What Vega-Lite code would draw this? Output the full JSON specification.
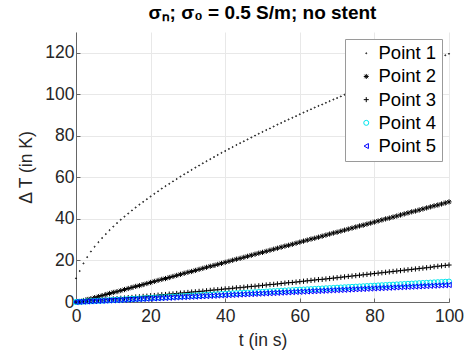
{
"$schema":"https://vega.github.io/schema/vega-lite/v6.json",
"width":373,"height":270,
"autosize":{"type":"none"},
"padding":{"left":76,"top":32,"right":24,"bottom":61},
"background":"white",
"config":{"view":{"stroke":null},"font":"Liberation Sans"},
"title":{"text":"σₙ; σ₀ = 0.5 S/m; no stent","fontSize":19,"fontWeight":"bold","font":"Liberation Sans","color":"#000","anchor":"middle","offset":9},
"data":{"values":[
{"t":0,"p1":11.4,"p2":0,"p3":0,"p4":0,"p5":0},
{"t":1,"p1":14.9,"p2":0.2,"p3":0.1,"p4":0.1,"p5":0.08},
{"t":2,"p1":18.6,"p2":0.7,"p3":0.3,"p4":0.2,"p5":0.16},
{"t":3,"p1":21.6,"p2":1.2,"p3":0.4,"p4":0.29,"p5":0.25},
{"t":4,"p1":24.3,"p2":1.6,"p3":0.6,"p4":0.39,"p5":0.33},
{"t":5,"p1":26.6,"p2":2.1,"p3":0.7,"p4":0.49,"p5":0.41},
{"t":6,"p1":28.8,"p2":2.6,"p3":0.9,"p4":0.59,"p5":0.49},
{"t":7,"p1":30.8,"p2":3.1,"p3":1.0,"p4":0.69,"p5":0.57},
{"t":8,"p1":32.7,"p2":3.6,"p3":1.2,"p4":0.78,"p5":0.66},
{"t":9,"p1":34.6,"p2":4.1,"p3":1.3,"p4":0.88,"p5":0.74},
{"t":10,"p1":36.3,"p2":4.6,"p3":1.5,"p4":0.98,"p5":0.82},
{"t":11,"p1":38.0,"p2":5.0,"p3":1.6,"p4":1.08,"p5":0.9},
{"t":12,"p1":39.6,"p2":5.5,"p3":1.8,"p4":1.18,"p5":0.98},
{"t":13,"p1":41.1,"p2":6.0,"p3":1.9,"p4":1.27,"p5":1.07},
{"t":14,"p1":42.6,"p2":6.5,"p3":2.1,"p4":1.37,"p5":1.15},
{"t":15,"p1":44.1,"p2":7.0,"p3":2.2,"p4":1.47,"p5":1.23},
{"t":16,"p1":45.5,"p2":7.5,"p3":2.4,"p4":1.57,"p5":1.31},
{"t":17,"p1":46.9,"p2":7.9,"p3":2.5,"p4":1.67,"p5":1.39},
{"t":18,"p1":48.2,"p2":8.4,"p3":2.7,"p4":1.76,"p5":1.48},
{"t":19,"p1":49.5,"p2":8.9,"p3":2.8,"p4":1.86,"p5":1.56},
{"t":20,"p1":50.8,"p2":9.4,"p3":3.0,"p4":1.96,"p5":1.64},
{"t":21,"p1":52.1,"p2":9.9,"p3":3.1,"p4":2.06,"p5":1.72},
{"t":22,"p1":53.3,"p2":10.4,"p3":3.3,"p4":2.16,"p5":1.8},
{"t":23,"p1":54.6,"p2":10.9,"p3":3.5,"p4":2.25,"p5":1.89},
{"t":24,"p1":55.8,"p2":11.3,"p3":3.6,"p4":2.35,"p5":1.97},
{"t":25,"p1":56.9,"p2":11.8,"p3":3.8,"p4":2.45,"p5":2.05},
{"t":26,"p1":58.1,"p2":12.3,"p3":3.9,"p4":2.55,"p5":2.13},
{"t":27,"p1":59.2,"p2":12.8,"p3":4.1,"p4":2.65,"p5":2.21},
{"t":28,"p1":60.4,"p2":13.3,"p3":4.3,"p4":2.74,"p5":2.3},
{"t":29,"p1":61.5,"p2":13.8,"p3":4.4,"p4":2.84,"p5":2.38},
{"t":30,"p1":62.5,"p2":14.3,"p3":4.6,"p4":2.94,"p5":2.46},
{"t":31,"p1":63.6,"p2":14.7,"p3":4.8,"p4":3.04,"p5":2.54},
{"t":32,"p1":64.7,"p2":15.2,"p3":4.9,"p4":3.14,"p5":2.62},
{"t":33,"p1":65.7,"p2":15.7,"p3":5.1,"p4":3.23,"p5":2.71},
{"t":34,"p1":66.8,"p2":16.2,"p3":5.2,"p4":3.33,"p5":2.79},
{"t":35,"p1":67.8,"p2":16.7,"p3":5.4,"p4":3.43,"p5":2.87},
{"t":36,"p1":68.8,"p2":17.2,"p3":5.6,"p4":3.53,"p5":2.95},
{"t":37,"p1":69.8,"p2":17.6,"p3":5.8,"p4":3.63,"p5":3.03},
{"t":38,"p1":70.8,"p2":18.1,"p3":5.9,"p4":3.72,"p5":3.12},
{"t":39,"p1":71.8,"p2":18.6,"p3":6.1,"p4":3.82,"p5":3.2},
{"t":40,"p1":72.7,"p2":19.1,"p3":6.3,"p4":3.92,"p5":3.28},
{"t":41,"p1":73.7,"p2":19.6,"p3":6.4,"p4":4.02,"p5":3.36},
{"t":42,"p1":74.6,"p2":20.1,"p3":6.6,"p4":4.12,"p5":3.44},
{"t":43,"p1":75.6,"p2":20.6,"p3":6.8,"p4":4.21,"p5":3.53},
{"t":44,"p1":76.5,"p2":21.0,"p3":6.9,"p4":4.31,"p5":3.61},
{"t":45,"p1":77.4,"p2":21.5,"p3":7.1,"p4":4.41,"p5":3.69},
{"t":46,"p1":78.3,"p2":22.0,"p3":7.3,"p4":4.51,"p5":3.77},
{"t":47,"p1":79.2,"p2":22.5,"p3":7.5,"p4":4.61,"p5":3.85},
{"t":48,"p1":80.1,"p2":23.0,"p3":7.6,"p4":4.7,"p5":3.94},
{"t":49,"p1":81.0,"p2":23.5,"p3":7.8,"p4":4.8,"p5":4.02},
{"t":50,"p1":81.9,"p2":23.9,"p3":8.0,"p4":4.9,"p5":4.1},
{"t":51,"p1":82.8,"p2":24.4,"p3":8.2,"p4":5.0,"p5":4.18},
{"t":52,"p1":83.6,"p2":24.9,"p3":8.4,"p4":5.1,"p5":4.26},
{"t":53,"p1":84.5,"p2":25.4,"p3":8.5,"p4":5.19,"p5":4.35},
{"t":54,"p1":85.4,"p2":25.9,"p3":8.7,"p4":5.29,"p5":4.43},
{"t":55,"p1":86.2,"p2":26.4,"p3":8.9,"p4":5.39,"p5":4.51},
{"t":56,"p1":87.1,"p2":26.9,"p3":9.1,"p4":5.49,"p5":4.59},
{"t":57,"p1":87.9,"p2":27.3,"p3":9.3,"p4":5.59,"p5":4.67},
{"t":58,"p1":88.7,"p2":27.8,"p3":9.4,"p4":5.68,"p5":4.76},
{"t":59,"p1":89.5,"p2":28.3,"p3":9.6,"p4":5.78,"p5":4.84},
{"t":60,"p1":90.4,"p2":28.8,"p3":9.8,"p4":5.88,"p5":4.92},
{"t":61,"p1":91.2,"p2":29.3,"p3":10.0,"p4":5.98,"p5":5.0},
{"t":62,"p1":92.0,"p2":29.8,"p3":10.2,"p4":6.08,"p5":5.08},
{"t":63,"p1":92.8,"p2":30.3,"p3":10.4,"p4":6.17,"p5":5.17},
{"t":64,"p1":93.6,"p2":30.7,"p3":10.6,"p4":6.27,"p5":5.25},
{"t":65,"p1":94.4,"p2":31.2,"p3":10.8,"p4":6.37,"p5":5.33},
{"t":66,"p1":95.1,"p2":31.7,"p3":10.9,"p4":6.47,"p5":5.41},
{"t":67,"p1":95.9,"p2":32.2,"p3":11.1,"p4":6.57,"p5":5.49},
{"t":68,"p1":96.7,"p2":32.7,"p3":11.3,"p4":6.66,"p5":5.58},
{"t":69,"p1":97.5,"p2":33.2,"p3":11.5,"p4":6.76,"p5":5.66},
{"t":70,"p1":98.2,"p2":33.6,"p3":11.7,"p4":6.86,"p5":5.74},
{"t":71,"p1":99.0,"p2":34.1,"p3":11.9,"p4":6.96,"p5":5.82},
{"t":72,"p1":99.8,"p2":34.6,"p3":12.1,"p4":7.06,"p5":5.9},
{"t":73,"p1":100.5,"p2":35.1,"p3":12.3,"p4":7.15,"p5":5.99},
{"t":74,"p1":101.3,"p2":35.6,"p3":12.5,"p4":7.25,"p5":6.07},
{"t":75,"p1":102.0,"p2":36.1,"p3":12.7,"p4":7.35,"p5":6.15},
{"t":76,"p1":102.8,"p2":36.6,"p3":12.9,"p4":7.45,"p5":6.23},
{"t":77,"p1":103.5,"p2":37.0,"p3":13.1,"p4":7.55,"p5":6.31},
{"t":78,"p1":104.2,"p2":37.5,"p3":13.3,"p4":7.64,"p5":6.4},
{"t":79,"p1":105.0,"p2":38.0,"p3":13.5,"p4":7.74,"p5":6.48},
{"t":80,"p1":105.7,"p2":38.5,"p3":13.7,"p4":7.84,"p5":6.56},
{"t":81,"p1":106.4,"p2":39.0,"p3":13.9,"p4":7.94,"p5":6.64},
{"t":82,"p1":107.1,"p2":39.5,"p3":14.1,"p4":8.04,"p5":6.72},
{"t":83,"p1":107.8,"p2":40.0,"p3":14.3,"p4":8.13,"p5":6.81},
{"t":84,"p1":108.6,"p2":40.4,"p3":14.5,"p4":8.23,"p5":6.89},
{"t":85,"p1":109.3,"p2":40.9,"p3":14.7,"p4":8.33,"p5":6.97},
{"t":86,"p1":110.0,"p2":41.4,"p3":14.9,"p4":8.43,"p5":7.05},
{"t":87,"p1":110.7,"p2":41.9,"p3":15.1,"p4":8.53,"p5":7.13},
{"t":88,"p1":111.4,"p2":42.4,"p3":15.3,"p4":8.62,"p5":7.22},
{"t":89,"p1":112.1,"p2":42.9,"p3":15.5,"p4":8.72,"p5":7.3},
{"t":90,"p1":112.8,"p2":43.4,"p3":15.7,"p4":8.82,"p5":7.38},
{"t":91,"p1":113.4,"p2":43.8,"p3":15.9,"p4":8.92,"p5":7.46},
{"t":92,"p1":114.1,"p2":44.3,"p3":16.1,"p4":9.02,"p5":7.54},
{"t":93,"p1":114.8,"p2":44.8,"p3":16.3,"p4":9.11,"p5":7.63},
{"t":94,"p1":115.5,"p2":45.3,"p3":16.5,"p4":9.21,"p5":7.71},
{"t":95,"p1":116.2,"p2":45.8,"p3":16.7,"p4":9.31,"p5":7.79},
{"t":96,"p1":116.8,"p2":46.3,"p3":17.0,"p4":9.41,"p5":7.87},
{"t":97,"p1":117.5,"p2":46.7,"p3":17.2,"p4":9.51,"p5":7.95},
{"t":98,"p1":118.2,"p2":47.2,"p3":17.4,"p4":9.6,"p5":8.04},
{"t":99,"p1":118.8,"p2":47.7,"p3":17.6,"p4":9.7,"p5":8.12},
{"t":100,"p1":119.5,"p2":48.2,"p3":17.8,"p4":9.8,"p5":8.2}
]},
"transform":[{"fold":["p1","p2","p3","p4","p5"],"as":["key","dT"]}],
"mark":{"type":"point","filled":false,"opacity":1,"strokeWidth":1,"size":27,"clip":false},
"encoding":{
"x":{"field":"t","type":"quantitative","scale":{"domain":[0,100],"nice":false,"zero":false},
"axis":{"values":[0,20,40,60,80,100],"title":"t (in s)","titleFont":"Liberation Sans","titleFontSize":17.5,"titleFontWeight":"normal","titleColor":"#262626","titlePadding":7,
"labelFont":"Liberation Sans","labelFontSize":17.5,"labelColor":"#262626","labelPadding":9,"labelFlush":false,"labelOverlap":false,
"domainColor":"#666","domainWidth":1,"ticks":true,"tickSize":-4,"tickColor":"#666","grid":true,"gridColor":"#e8e8e8","gridWidth":1}},
"y":{"field":"dT","type":"quantitative","scale":{"domain":[0,130],"nice":false,"zero":false},
"axis":{"values":[0,20,40,60,80,100,120],"title":"Δ T (in K)","titleFont":"Liberation Sans","titleFontSize":17.5,"titleFontWeight":"normal","titleColor":"#262626","titlePadding":9,
"labelFont":"Liberation Sans","labelFontSize":17.5,"labelColor":"#262626","labelPadding":6,"labelFlush":false,"labelOverlap":false,
"domainColor":"#666","domainWidth":1,"ticks":true,"tickSize":-4,"tickColor":"#666","grid":true,"gridColor":"#e8e8e8","gridWidth":1}},
"color":{"field":"key","type":"nominal","scale":{"domain":["p1","p2","p3","p4","p5"],"range":["#000000","#000000","#000000","#00e5ee","#0000ff"]},
"legend":{"orient":"top-right","offset":7,"title":null,"labelExpr":"'Point ' + substring(datum.label, 1)","labelFont":"Liberation Sans","labelFontSize":18.5,"labelColor":"#000","symbolSize":25,"symbolStrokeWidth":1,"symbolOffset":7,"labelOffset":3,"fillColor":"white","strokeColor":"#9a9a9a","padding":5,"rowPadding":4.2}},
"shape":{"field":"key","type":"nominal","scale":{"domain":["p1","p2","p3","p4","p5"],"range":["M0,-0.2A0.2,0.2,0,1,1,0,0.2A0.2,0.2,0,1,1,0,-0.2Z","M-1,0L1,0M0,-1L0,1M-0.7,-0.7L0.7,0.7M-0.7,0.7L0.7,-0.7","M-1,0L1,0M0,-1L0,1","circle","triangle-left"]}},
"order":{"field":"key","type":"nominal"}
}
}
